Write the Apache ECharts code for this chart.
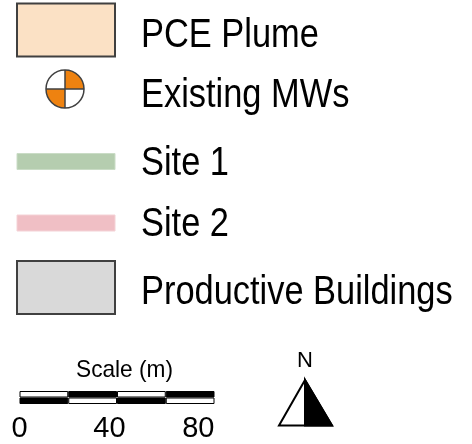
<!DOCTYPE html>
<html>
<head>
<meta charset="utf-8">
<script src="https://cdn.jsdelivr.net/npm/echarts@6/dist/echarts.min.js"></script>
<style>
html,body{margin:0;padding:0;background:#fff;}
#chart{width:472px;height:444px;}
</style>
</head>
<body>
<div id="chart"></div>
<script>
// Legend labels
var legendLabels = ['PCE Plume', 'Existing MWs', 'Site 1', 'Site 2', 'Productive Buildings'];
// Scale bar
var scaleTitle = 'Scale (m)';
var scaleTicks = [0, 40, 80];
var scaleSegments = [20, 20, 20, 20];
var northLabel = 'N';

var FONT = 'Liberation Sans, Arial, sans-serif';
var labelBaselines = [48, 108, 176, 237, 305];
var labelFont = 40;
var labelScaleX = 0.86;

var chart = echarts.init(document.getElementById('chart'), null, {renderer: 'canvas'});

var graphics = [];
// icons
graphics.push({type: 'rect', shape: {x: 17, y: 3.5, width: 98, height: 53},
  style: {fill: '#FBE1C5', stroke: '#404040', lineWidth: 2}});
var cx = 65, cy = 89, r = 19;
graphics.push({type: 'circle', shape: {cx: cx, cy: cy, r: r}, style: {fill: '#fff'}});
graphics.push({type: 'sector', shape: {cx: cx, cy: cy, r0: 0, r: r, startAngle: -Math.PI / 2, endAngle: 0}, style: {fill: '#EE8210'}});
graphics.push({type: 'sector', shape: {cx: cx, cy: cy, r0: 0, r: r, startAngle: Math.PI / 2, endAngle: Math.PI}, style: {fill: '#EE8210'}});
graphics.push({type: 'line', shape: {x1: cx - r, y1: cy, x2: cx + r, y2: cy}, style: {stroke: '#404040', lineWidth: 1.5}});
graphics.push({type: 'line', shape: {x1: cx, y1: cy - r, x2: cx, y2: cy + r}, style: {stroke: '#404040', lineWidth: 1.5}});
graphics.push({type: 'circle', shape: {cx: cx, cy: cy, r: r}, style: {fill: null, stroke: '#404040', lineWidth: 1.5}});
graphics.push({type: 'rect', shape: {x: 17, y: 153.5, width: 98, height: 16},
  style: {fill: '#B5CDAF', stroke: '#CADCC6', lineWidth: 1}});
graphics.push({type: 'rect', shape: {x: 17, y: 215, width: 98, height: 16},
  style: {fill: '#F0BFC5', stroke: '#F4D2D6', lineWidth: 1}});
graphics.push({type: 'rect', shape: {x: 17, y: 261, width: 98, height: 53},
  style: {fill: '#D9D9D9', stroke: '#404040', lineWidth: 2}});

legendLabels.forEach(function (t, i) {
  graphics.push({type: 'text', x: 141, y: labelBaselines[i] - 0.31 * labelFont, scaleX: labelScaleX,
    style: {text: t, x: 0, y: 0, fill: '#000', font: labelFont + 'px ' + FONT, verticalAlign: 'middle'}});
});

// scale title
graphics.push({type: 'text', x: 76, y: 378 - 0.31 * 24, scaleX: 0.945,
  style: {text: scaleTitle, x: 0, y: 0, fill: '#000', font: '24px ' + FONT, verticalAlign: 'middle'}});

// north arrow
graphics.push({type: 'text', x: 305, y: 368 - 0.31 * 22,
  style: {text: northLabel, x: 0, y: 0, fill: '#000', font: '22px ' + FONT, align: 'center', verticalAlign: 'middle'}});
graphics.push({type: 'polygon', shape: {points: [[305, 380], [332, 425.5], [305, 425.5]]}, style: {fill: '#000', stroke: '#000', lineWidth: 2, lineJoin: 'miter'}});
graphics.push({type: 'polygon', shape: {points: [[305, 380], [279, 425.5], [332, 425.5]]}, style: {fill: null, stroke: '#000', lineWidth: 2, lineJoin: 'miter'}});

var segColorsTop = ['#fff', '#000', '#fff', '#000'];
var segColorsBottom = ['#000', '#fff', '#000', '#fff'];
var series = scaleSegments.map(function (v, i) {
  return {
    type: 'bar', stack: 'scale', barWidth: '100%', silent: true,
    data: [
      {value: v, itemStyle: {color: segColorsBottom[i]}},
      {value: v, itemStyle: {color: segColorsTop[i]}}
    ],
    itemStyle: {borderColor: '#000', borderWidth: 1}
  };
});

chart.setOption({
  animation: false,
  backgroundColor: '#fff',
  grid: {left: 19.5, top: 391, width: 195, height: 13, containLabel: false},
  xAxis: {
    type: 'value', min: 0, max: 80, interval: 40,
    axisLine: {show: false}, axisTick: {show: false}, splitLine: {show: false},
    axisLabel: {
      color: '#000', fontSize: 29, fontFamily: FONT, margin: 10,
      alignMaxLabel: 'right',
      formatter: function (v) { return v === 40 ? '{m|40}' : '' + v; },
      rich: {m: {fontSize: 29, fontFamily: FONT, color: '#000', padding: [0, 15, 0, 0]}}
    }
  },
  yAxis: {
    type: 'category', data: ['lower', 'upper'],
    axisLine: {show: false}, axisTick: {show: false}, axisLabel: {show: false}, splitLine: {show: false}
  },
  series: series,
  graphic: graphics
});
</script>
</body>
</html>
